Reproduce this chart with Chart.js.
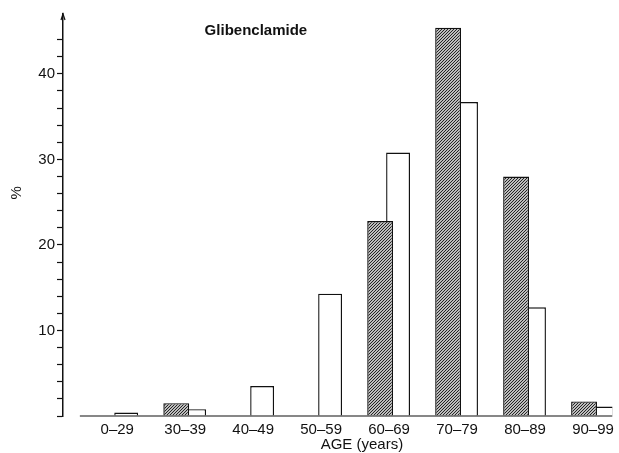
<!DOCTYPE html>
<html>
<head>
<meta charset="utf-8">
<script src="https://cdn.jsdelivr.net/npm/chart.js@4.4.1/dist/chart.umd.min.js"></script>
<style>
  body { margin: 0; background: #fff; }
  #wrap { width: 619px; height: 453px; }
</style>
</head>
<body>
<div id="wrap"><canvas id="myChart"></canvas></div>
<script>
// age groups and percentages
const ageGroups = ["0–29", "30–39", "40–49", "50–59", "60–69", "70–79", "80–89", "90–99"];
const hatchedPct = [0, 1.5, 0, 0, 22.8, 45.4, 28.0, 1.7];
const openPct = [0.4, 0.8, 3.5, 14.3, 30.8, 36.7, 12.7, 1.1];
const yTicks = [10, 20, 30, 40];

const ink = "#111";
const font = "Liberation Sans, Arial, sans-serif";

function makeHatch() {
  const c = document.createElement("canvas");
  c.width = 3;
  c.height = 3;
  const g = c.getContext("2d");
  g.fillStyle = "#fff";
  g.fillRect(0, 0, 3, 3);
  g.strokeStyle = "#1a1a1a";
  g.lineWidth = 1.1;
  g.beginPath();
  g.moveTo(-1, 4); g.lineTo(4, -1);
  g.moveTo(-1, 1); g.lineTo(1, -1);
  g.moveTo(2, 4); g.lineTo(4, 2);
  g.stroke();
  return g.createPattern(c, "repeat");
}

// extra text and the baseline, placed through the chart's scales
const labelsPlugin = {
  id: "labels",
  afterDraw(chart) {
    const { ctx, scales, chartArea } = chart;
    const x = scales.x, y = scales.y;
    ctx.save();
    ctx.strokeStyle = ink;
    ctx.lineWidth = 1.2;
    ctx.beginPath();
    ctx.moveTo(x.getPixelForValue(-0.55), y.getPixelForValue(0));
    ctx.lineTo(chartArea.right, y.getPixelForValue(0));
    ctx.stroke();

    // arrow tip of the y axis
    ctx.beginPath();
    ctx.moveTo(chartArea.left - 2, chartArea.top + 6);
    ctx.lineTo(chartArea.left, chartArea.top);
    ctx.lineTo(chartArea.left + 2, chartArea.top + 6);
    ctx.stroke();

    ctx.fillStyle = ink;
    ctx.textAlign = "center";
    ctx.textBaseline = "middle";
    ctx.font = "bold 15px " + font;
    ctx.fillText("Glibenclamide", x.getPixelForValue(2.04), y.getPixelForValue(45));

    ctx.font = "15px " + font;
    ctx.fillText("AGE (years)", x.getPixelForValue(3.6), 445);

    ctx.translate(17, y.getPixelForValue(26.1));
    ctx.rotate(-Math.PI / 2);
    ctx.fillText("%", 0, 0);
    ctx.restore();
  },
};

const hatch = makeHatch();

const data = {
  datasets: [
    {
      label: "hatched",
      data: hatchedPct.map((v, i) => ({ x: i, y: v })),
      backgroundColor: hatch,
      borderColor: ink,
      borderWidth: 1.4,
      categoryPercentage: 0.527,
      barPercentage: 1.444,
    },
    {
      label: "open",
      data: openPct.map((v, i) => ({ x: i, y: v })),
      backgroundColor: "#fff",
      borderColor: ink,
      borderWidth: 1.4,
      categoryPercentage: 0.527,
      barPercentage: 1.333,
    },
  ],
};

const config = {
  type: "bar",
  data,
  plugins: [labelsPlugin],
  options: {
    responsive: true,
    maintainAspectRatio: false,
    animation: false,
    layout: { padding: { top: 14, right: 4, left: 0, bottom: 0 } },
    plugins: {
      legend: { display: false },
      tooltip: { enabled: false },
    },
    scales: {
      x: {
        type: "linear",
        offset: false,
        min: -0.798,
        max: 7.284,
        afterFit: (s) => { s.height = 37; },
        afterBuildTicks: (s) => { s.ticks = ageGroups.map((_, i) => ({ value: i })); },
        grid: { display: false, drawTicks: false, tickLength: 0 },
        border: { display: false },
        ticks: {
          padding: 5,
          color: ink,
          font: { family: font, size: 15 },
          maxRotation: 0,
          autoSkip: false,
          callback: (v) => ageGroups[v],
        },
      },
      y: {
        min: 0,
        max: 47,
        afterFit: (s) => { s.width = 63; },
        grid: {
          drawOnChartArea: false,
          tickLength: 6,
          tickWidth: 1.2,
          tickColor: (c) => (c.tick && c.tick.value % 2 === 0 ? ink : "rgba(0,0,0,0)"),
        },
        border: { color: ink, width: 1.5 },
        ticks: {
          stepSize: 2,
          autoSkip: false,
          padding: 2,
          color: ink,
          font: { family: font, size: 15 },
          callback: (v) => (yTicks.includes(v) ? v : ""),
        },
      },
    },
  },
};

new Chart(document.getElementById("myChart"), config);
</script>
</body>
</html>
